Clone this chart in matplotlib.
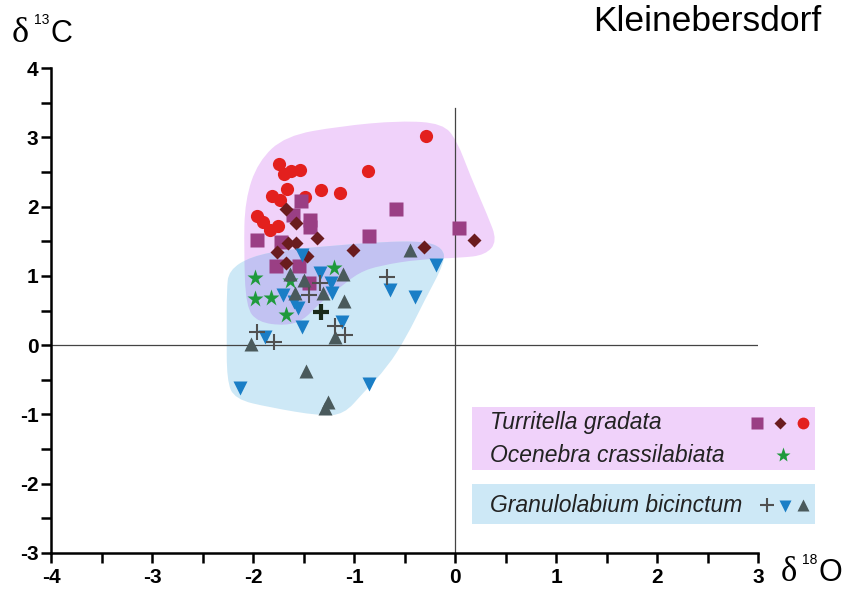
import matplotlib
matplotlib.use("Agg")
import matplotlib.pyplot as plt
from matplotlib.patches import PathPatch, Rectangle
from matplotlib.path import Path
from matplotlib.lines import Line2D
import numpy as np

plt.rcParams['axes.unicode_minus'] = False
plt.rcParams['font.family'] = ['Liberation Sans', 'DejaVu Sans']

# Turritella gradata
tg_sq_x = [-1.52, -1.60, -1.44, -1.44, -0.58, -1.96, -1.72, -0.85, 0.04, -1.77, -1.54, -1.45]
tg_sq_y = [2.08, 1.88, 1.80, 1.71, 1.96, 1.52, 1.49, 1.57, 1.69, 1.14, 1.14, 0.89]
tg_di_x = [-1.67, -1.57, -1.37, -1.65, -1.57, -1.76, -1.01, -0.31, 0.19, -1.67, -1.47]
tg_di_y = [1.97, 1.76, 1.55, 1.48, 1.47, 1.35, 1.37, 1.42, 1.52, 1.19, 1.28]
tg_ci_x = [-0.29, -1.74, -1.69, -1.62, -1.53, -0.86, -1.66, -1.33, -1.14, -1.81, -1.73, -1.49,
           -1.96, -1.90, -1.83, -1.75]
tg_ci_y = [3.02, 2.62, 2.47, 2.52, 2.53, 2.52, 2.26, 2.24, 2.20, 2.15, 2.09, 2.14,
           1.87, 1.78, 1.66, 1.72]
# Ocenebra crassilabiata
oc_x = [-1.20, -1.98, -1.63, -1.98, -1.82, -1.67]
oc_y = [1.11, 0.97, 0.93, 0.67, 0.68, 0.43]
# Granulolabium bicinctum
gb_plus_x = [-0.67, -1.34, -1.45, -1.19, -1.09, -1.96, -1.79]
gb_plus_y = [0.99, 0.89, 0.72, 0.27, 0.14, 0.19, 0.05]
gb_bold_x = [-1.33]
gb_bold_y = [0.48]
gb_dn_x = [-1.51, -1.34, -1.23, -1.70, -1.59, -1.55, -1.22, -1.51, -1.12, -1.88, -2.13, -0.85,
           -0.64, -0.40, -0.19]
gb_dn_y = [1.30, 1.04, 0.89, 0.72, 0.62, 0.54, 0.75, 0.26, 0.34, 0.12, -0.62, -0.56,
           0.79, 0.70, 1.16]
gb_up_x = [-0.45, -1.11, -1.63, -1.50, -1.58, -1.31, -1.10, -1.19, -2.02, -1.48, -1.26, -1.29]
gb_up_y = [1.37, 1.03, 1.03, 0.94, 0.75, 0.75, 0.63, 0.12, 0.02, -0.38, -0.82, -0.91]

# outlines of the shaded fields (control points of a rounded outline)
pink_field = [(-2.07, 0.55), (-1.95, 0.33), (-1.68, 0.28), (-1.50, 0.36), (-1.36, 0.58),
              (-1.15, 0.82), (-0.95, 1.05), (-0.74, 1.15), (-0.35, 1.24), (0.05, 1.26),
              (0.30, 1.30), (0.42, 1.50), (0.32, 1.88), (0.15, 2.45), (0.02, 2.95),
              (-0.12, 3.20), (-0.54, 3.24), (-1.14, 3.16), (-1.68, 3.02), (-1.95, 2.65),
              (-2.08, 2.09), (-2.09, 1.37)]
blue_field = [(-2.24, 1.08), (-2.02, 1.28), (-1.66, 1.38), (-1.24, 1.43), (-0.74, 1.49),
              (-0.30, 1.50), (-0.12, 1.40), (-0.10, 1.20), (-0.30, 0.65), (-0.48, 0.12),
              (-0.67, -0.32), (-0.91, -0.69), (-1.10, -1.00), (-1.34, -1.02), (-1.83, -0.90),
              (-2.18, -0.78), (-2.26, -0.51), (-2.26, 0.22), (-2.26, 0.79)]

pink = '#f0d2fa'
blue = '#cde8f6'
lav = '#c2c2f2'
c_sq = '#9a3f84'
c_di = '#6a1c1e'
c_ci = '#e3201e'
c_st = '#1f9a3c'
c_dn = '#1a7ec6'
c_up = '#4a5a5c'
c_pl = '#505050'


def rounded(pts):
    # closed outline: corners act as control points, edge midpoints lie on the curve
    pts = np.asarray(pts)
    mids = (pts + np.roll(pts, -1, axis=0)) / 2
    verts = [mids[-1]]
    codes = [Path.MOVETO]
    for i in range(len(pts)):
        verts += [pts[i], mids[i]]
        codes += [Path.CURVE3, Path.CURVE3]
    verts.append(mids[-1])
    codes.append(Path.CLOSEPOLY)
    return Path(verts, codes)


fig = plt.figure(figsize=(8.58, 5.89), dpi=100)
ax = fig.add_axes([51 / 858, 36 / 589, 707 / 858, 485 / 589])
ax.set_xlim(-4, 3)
ax.set_ylim(-3, 4)

p1 = PathPatch(rounded(pink_field), fc=pink, ec='none', zorder=1)
p2 = PathPatch(rounded(blue_field), fc=blue, ec='none', zorder=1)
ax.add_patch(p1)
ax.add_patch(p2)
p3 = PathPatch(rounded(pink_field), fc=lav, ec='none', zorder=1.5)
ax.add_patch(p3)
p3.set_clip_path(p2)

ax.axhline(0, color='#444444', lw=0.9, zorder=2)
ax.plot([0, 0], [-3, 3.42], color='#444444', lw=0.9, zorder=2)

ms = 9.5
ax.plot(tg_sq_x, tg_sq_y, 's', ms=ms, color=c_sq, mec='none', zorder=4)
ax.plot(tg_di_x, tg_di_y, 'D', ms=ms - 2.5, color=c_di, mec='none', zorder=4)
ax.plot(tg_ci_x, tg_ci_y, 'o', ms=ms, color=c_ci, mec='none', zorder=3)
ax.plot(oc_x, oc_y, '*', ms=ms + 3, color=c_st, mec='none', zorder=5)
ax.plot(gb_dn_x, gb_dn_y, 'v', ms=ms, color=c_dn, mec='none', zorder=5)
ax.plot(gb_up_x, gb_up_y, '^', ms=ms, color=c_up, mec='none', zorder=5)
ax.plot(gb_plus_x, gb_plus_y, '+', ms=ms + 2, mew=1.5, color=c_pl, zorder=6)
ax.plot(gb_bold_x, gb_bold_y, '+', ms=ms + 2, mew=3, color='#1a2a1a', zorder=6)

for s in ['top', 'right']:
    ax.spines[s].set_visible(False)
for s in ['left', 'bottom']:
    ax.spines[s].set_linewidth(1.8)
ax.set_xticks(np.arange(-4, 4, 1))
ax.set_xticks(np.arange(-3.5, 3, 1), minor=True)
ax.set_yticks(np.arange(-3, 5, 1))
ax.set_yticks(np.arange(-2.5, 4, 1), minor=True)
ax.tick_params(which='both', direction='out', length=7, width=1.8, pad=4)
lab_font = dict(family='Liberation Sans', weight='bold', size=15)
ax.set_xticklabels([str(v) for v in range(-4, 4)], fontdict=lab_font)
ax.set_yticklabels([str(v) for v in range(-3, 5)], fontdict=lab_font)
ax.tick_params(axis='y', pad=2)

# axis titles and site name
fig.text(12 / 858, 1 - 42 / 589, 'δ', family='Liberation Serif', fontsize=26, va='baseline')
fig.text(34 / 858, 1 - 24 / 589, '13', fontsize=10, va='baseline')
fig.text(50 / 858, 1 - 42 / 589, 'C', fontsize=22, va='baseline')
fig.text(781 / 858, 1 - 581 / 589, 'δ', family='Liberation Serif', fontsize=25, va='baseline')
fig.text(802 / 858, 1 - 564 / 589, '18', fontsize=10, va='baseline')
fig.text(818 / 858, 1 - 581 / 589, 'O', fontsize=22, va='baseline')
fig.text(593 / 858, 1 - 31 / 589, 'Kleinebersdorf', fontsize=25.5, va='baseline')

# legend boxes
fig.patches.append(Rectangle((472 / 858, 1 - 470 / 589), 343 / 858, 63 / 589,
                             transform=fig.transFigure, fc=pink, ec='none'))
fig.patches.append(Rectangle((472 / 858, 1 - 524 / 589), 343 / 858, 40 / 589,
                             transform=fig.transFigure, fc=blue, ec='none'))
leg_font = dict(fontsize=16.5, style='italic', va='center', color='#222222')
fig.text(490 / 858, 1 - 423 / 589, 'Turritella gradata', **leg_font)
fig.text(490 / 858, 1 - 455 / 589, 'Ocenebra crassilabiata', **leg_font)
fig.text(490 / 858, 1 - 505 / 589, 'Granulolabium bicinctum', **leg_font)


def key(px, py, m, c, s, **kw):
    fig.add_artist(Line2D([px / 858], [1 - py / 589], marker=m, color=c, ms=s,
                          mec=kw.pop('mec', 'none'), ls='none', transform=fig.transFigure, **kw))


key(757, 423, 's', c_sq, 8)
key(780, 423, 'D', c_di, 6)
key(803, 423, 'o', c_ci, 8.5)
key(783, 455, '*', c_st, 11)
key(767, 505, '+', c_pl, 10, mec=c_pl, mew=1.5)
key(785, 506, 'v', c_dn, 8)
key(803, 505, '^', c_up, 8)

fig.savefig('out.png', dpi=100)
